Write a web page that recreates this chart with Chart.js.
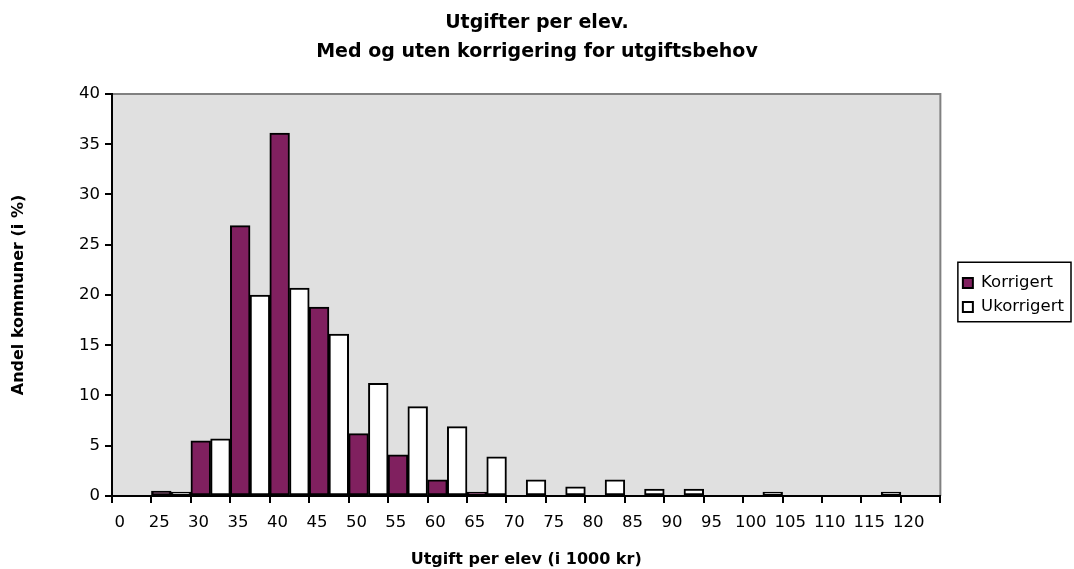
<!DOCTYPE html>
<html>
<head>
<meta charset="utf-8">
<script src="https://cdn.jsdelivr.net/npm/chart.js@4.4.1/dist/chart.umd.min.js"></script>
<style>
  html, body { margin: 0; padding: 0; background: #ffffff; }
  #wrap { width: 1074px; height: 569px; }
</style>
</head>
<body>
<div id="wrap"><canvas id="c" width="1074" height="569"></canvas></div>
<script>
// Tick labels (lower bound of each 5000 kr interval, in 1000 kr)
const xLabels = ['0','25','30','35','40','45','50','55','60','65','70','75','80','85','90','95','100','105','110','115','120'];
// Share of municipalities (%) per interval
const korrigert  = [null, 0.5, 5.5, 26.9, 36.1, 18.8, 6.2, 4.1, 1.6, 0.4, null, null, null, null, null, null, null, null, null, null, null];
const ukorrigert = [null, 0.4, 5.7, 20.0, 20.7, 16.1, 11.2, 8.9, 6.9, 3.9, 1.6, 0.9, 1.6, 0.7, 0.7, null, 0.4, null, null, 0.4, null];
const seriesNames = ['Korrigert', 'Ukorrigert'];
const titleLines = ['Utgifter per elev.', 'Med og uten korrigering for utgiftsbehov'];
const xTitle = 'Utgift per elev (i 1000 kr)';
const yTitle = 'Andel kommuner (i %)';

const FONT = "'DejaVu Sans', 'Liberation Sans', Arial, sans-serif";

const plotBg = {
  id: 'plotBg',
  beforeDraw(chart) {
    const a = chart.chartArea, ctx = chart.ctx;
    ctx.save();
    ctx.fillStyle = '#e0e0e0';
    ctx.fillRect(a.left, a.top, a.right - a.left, a.bottom - a.top);
    ctx.strokeStyle = '#808080';
    ctx.lineWidth = 2;
    ctx.beginPath();
    ctx.moveTo(a.left, a.top);
    ctx.lineTo(a.right, a.top);
    ctx.lineTo(a.right, a.bottom);
    ctx.stroke();
    ctx.restore();
  }
};

const legendFrame = {
  id: 'legendFrame',
  afterDraw(chart) {
    const hb = chart.legend && chart.legend.legendHitBoxes;
    if (!hb || !hb.length) return;
    const ctx = chart.ctx;
    let left = Infinity, right = -Infinity, top = Infinity, bottom = -Infinity;
    hb.forEach(h => {
      left = Math.min(left, h.left);
      right = Math.max(right, h.left + h.width);
      top = Math.min(top, h.top);
      bottom = Math.max(bottom, h.top + h.height);
    });
    ctx.save();
    ctx.strokeStyle = '#000';
    ctx.lineWidth = 1.5;
    ctx.strokeRect(left - 5, top - 12.5, (right + 7) - (left - 5), (bottom + 6.5) - (top - 12.5));
    ctx.restore();
  }
};

new Chart(document.getElementById('c'), {
  type: 'bar',
  data: {
    labels: xLabels,
    datasets: [
      { label: seriesNames[0], data: korrigert, backgroundColor: '#80205f', borderColor: '#000', borderWidth: 2, borderSkipped: false },
      { label: seriesNames[1], data: ukorrigert, backgroundColor: '#ffffff', borderColor: '#000', borderWidth: 2, borderSkipped: false }
    ]
  },
  options: {
    responsive: false,
    animation: false,
    devicePixelRatio: 1,
    layout: { padding: { left: 0, right: 0, top: 0, bottom: 0 } },
    datasets: { bar: { categoryPercentage: 1.0, barPercentage: 1.0 } },
    plugins: {
      tooltip: { enabled: false },
      title: {
        display: true,
        text: titleLines,
        color: '#000',
        font: { family: FONT, size: 19, weight: 'bold', lineHeight: 1.526 },
        padding: { top: 8.5, bottom: 27.5 }
      },
      legend: {
        position: 'right',
        align: 'center',
        fullSize: false,
        labels: {
          color: '#000',
          font: { family: FONT, size: 16.5 },
          boxWidth: 10,
          boxHeight: 10,
          padding: 7.5
        }
      }
    },
    scales: {
      x: {
        type: 'category',
        offset: true,
        grid: { display: true, offset: true, drawOnChartArea: false, drawTicks: true, tickLength: 7, color: '#000', lineWidth: 2 },
        border: { display: true, color: '#000', width: 2 },
        ticks: { color: '#000', font: { family: FONT, size: 16.5 }, padding: 10, labelOffset: -12, maxRotation: 0, autoSkip: false },
        title: { display: true, text: xTitle, color: '#000', font: { family: FONT, size: 16, weight: 'bold' }, padding: { top: 0, bottom: 0 } },
        afterFit(s) { s.height = 73; }
      },
      y: {
        type: 'linear',
        min: 0,
        max: 40,
        grid: { display: true, drawOnChartArea: false, drawTicks: true, tickLength: 7, color: '#000', lineWidth: 2 },
        border: { display: true, color: '#000', width: 2 },
        ticks: { stepSize: 5, color: '#000', font: { family: FONT, size: 16.5 }, padding: 5 },
        title: { display: true, text: yTitle, color: '#000', font: { family: FONT, size: 16, weight: 'bold' }, padding: { top: 9, bottom: 0 } },
        afterFit(s) { s.width = 112; }
      },
      y2: {
        type: 'linear',
        position: 'right',
        display: true,
        grid: { display: false, drawTicks: false },
        border: { display: false },
        ticks: { display: false },
        afterFit(s) { s.width = 15; }
      }
    }
  },
  plugins: [plotBg, legendFrame]
});
</script>
</body>
</html>
